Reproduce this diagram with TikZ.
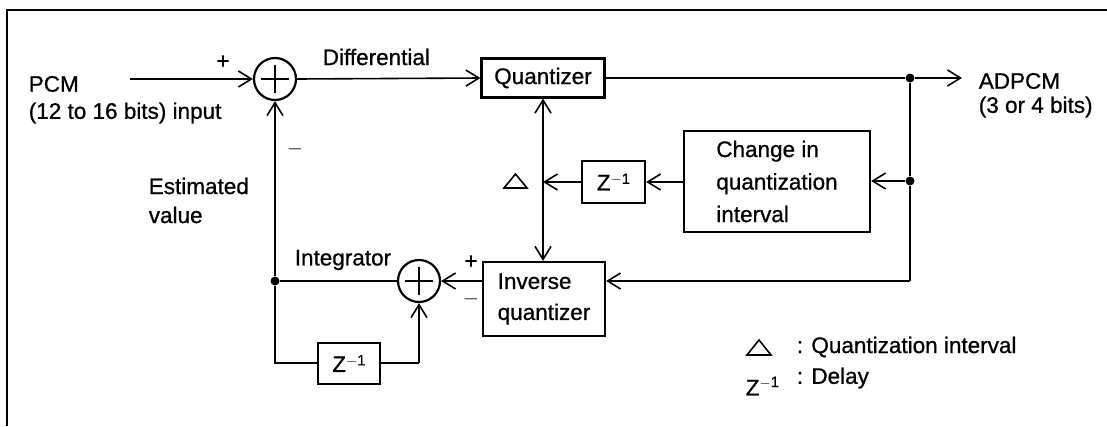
\documentclass[tikz,border=0pt]{standalone}
\usepackage{fontspec}
\setmainfont{Liberation Sans}[FakeBold=0.8]
\usetikzlibrary{arrows.meta}
\begin{document}
\begin{tikzpicture}[x=1pt,y=-1pt,line width=1.6pt,
  >={Straight Barb[length=13pt,width=16pt]},
  font=\fontsize{22.5}{31}\selectfont,
  blk/.style={draw,line width=2.2pt,inner sep=0pt,align=left},
  sumc/.style={circle,draw,line width=2.2pt,minimum size=42pt,inner sep=0pt,
    path picture={\draw[line width=2.2pt]
      ([xshift=-14pt]path picture bounding box.center) -- ([xshift=14pt]path picture bounding box.center)
      ([yshift=-14pt]path picture bounding box.center) -- ([yshift=14pt]path picture bounding box.center);}},
  jdot/.style={circle,fill,inner sep=0pt,minimum size=9pt},
  lbl/.style={inner sep=0pt,anchor=west,align=left},
  sgn/.style={inner sep=0pt}]
\useasboundingbox (0,0) rectangle (1107,426);
% frame
\draw[line width=2pt] (7,426) -- (7,10) -- (1107,10);
% nodes
\node[sumc] (s1) at (275,79) {};
\node[sumc] (s2) at (419,281) {};
\node[blk,minimum width=123pt,minimum height=39pt] (q) at (543,78) {Quantizer};
\node[blk,minimum width=186pt,minimum height=101pt,font=\fontsize{22.5}{32.5}\selectfont] (chg) at (777,181.5) {Change in\\quantization\\interval};
\node[blk,minimum width=63pt,minimum height=42pt] (z1) at (613.5,182) {Z\raisebox{0.55ex}{\fontsize{15}{15}\selectfont $-$1}};
\node[blk,minimum width=122pt,minimum height=74pt] (iq) at (544,299) {Inverse\\quantizer};
\node[blk,minimum width=62pt,minimum height=41pt] (z2) at (349,363.5) {Z\raisebox{0.55ex}{\fontsize{15}{15}\selectfont $-$1}};
\node[jdot] (d1) at (910,78) {};
\node[jdot] (d2) at (910,181) {};
\node[jdot] (d3) at (275,281) {};
\coordinate (in) at (130,79);
\coordinate (out) at (962,78);
\coordinate (c3) at (910,281);
\coordinate (tj) at (543,182);
\coordinate (c4) at (275,363);
\coordinate (c5) at (419,363);
% texts
\node[lbl] (pcm) at (28,84) {PCM};
\node[lbl] (pcm2) at (28,113) {(12 to 16 bits) input};
\node[lbl] (diff) at (322,57) {Differential};
\node[lbl] (adp) at (978,81) {ADPCM};
\node[lbl] (adp2) at (978,107) {(3 or 4 bits)};
\node[lbl] (est) at (148,186) {Estimated};
\node[lbl] (val) at (148,215) {value};
\node[lbl] (intg) at (294,260) {Integrator};
\node[sgn] (p1) at (223,62) {+};
\node[sgn] (m1) at (295,149) {$-$};
\node[sgn] (p2) at (471,262) {+};
\node[sgn] (m2) at (471,299) {$-$};
\node[lbl] (leg1) at (796,347) {: Quantization interval};
\node[lbl] (leg2) at (796,378) {: Delay};
\node[lbl] (legz) at (745,386) {Z\raisebox{0.7ex}{\fontsize{15}{15}\selectfont $-$1}};
% triangles
\draw[line width=1.6pt] (504,188) -- (527,188) -- (515.5,174) -- cycle;
\draw[line width=1.6pt] (747,355) -- (771,355) -- (759,340) -- cycle;
% connectors
\draw[->] (in) -- (s1.west);
\draw[->] (s1.east) -- (q.west);
\draw (q.east) -- (d1);
\draw[->] (d1) -- (out);
\draw (d1) -- (d2) -- (c3);
\draw[->] (c3) -- (iq.east |- c3);
\draw[->] (d2) -- (chg.east |- d2);
\draw[->] (chg.west |- z1) -- (z1.east);
\draw[->] (z1.west) -- (tj);
\draw[<->] (q.south) -- (q.south |- iq.north);
\draw[->] (iq.west |- s2) -- (s2.east);
\draw (s2.west) -- (d3);
\draw[->] (d3) -- (s1.south);
\draw (d3) -- (c4) -- (z2.west |- c4);
\draw (z2.east |- c5) -- (c5);
\draw[->] (c5) -- (s2.south);
\end{tikzpicture}
\end{document}
